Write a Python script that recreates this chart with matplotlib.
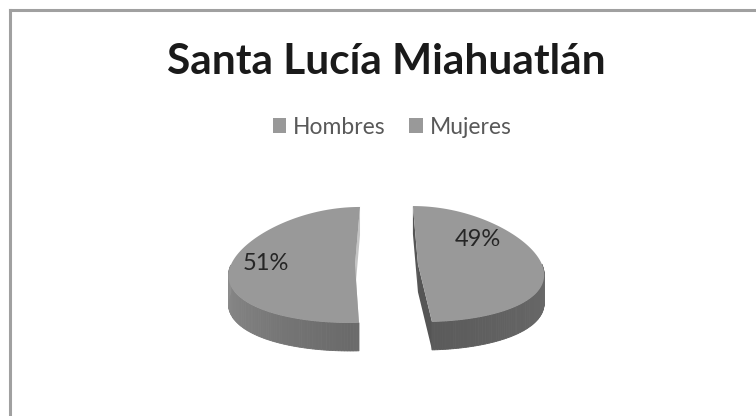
import numpy as np
import matplotlib
matplotlib.use("Agg")
import matplotlib.pyplot as plt
from matplotlib.patches import Polygon, Rectangle
from matplotlib.lines import Line2D

# ---- data ----
title = "Santa Lucía Miahuatlán"
categories = ["Hombres", "Mujeres"]
values = [49, 51]
labels = ["49%", "51%"]

# ---- style / layout ----
W, H = 756, 416
top_color = "#999999"
wall_colors = [("#6c6c6c", "#5a5a5a"), ("#8e8e8e", "#6a6a6a")]  # (outer-end, inner-end)
face_colors = ["#555555", "#c4c4c4"]
cx0, cy0 = 386.5, 264.5
rx, ry, depth = 124.0, 58.0, 28.0
explode = 31.5
persp = 0.16          # perspective widening toward the viewer
label_offsets = [(0.54, -0.42), (-0.72, -0.03)]  # in units of (rx, ry) from slice centre

fig = plt.figure(figsize=(W / 100, H / 100), dpi=100)
ax = fig.add_axes([0, 0, 1, 1])
ax.set_xlim(0, W)
ax.set_ylim(H, 0)
ax.axis("off")


def proj(x, y):
    """plane coords -> screen coords with a simple perspective."""
    p = 1 + persp * (np.asarray(y) - cy0) / ry
    return cx0 + (np.asarray(x) - cx0) * p, y


def rim(cx, cy, th):
    t = np.radians(th)
    return proj(cx + rx * np.sin(t), cy - ry * np.cos(t))


total = float(sum(values))
start = 0.0
slices = []
for v in values:
    span = 360.0 * v / total
    slices.append((start, start + span))
    start += span

for i, (a, b) in enumerate(slices):
    mid = np.radians((a + b) / 2)
    cx = cx0 + explode * np.sin(mid)
    cy = cy0 - explode * np.cos(mid) * ry / rx
    ccx, ccy = proj(cx, cy)
    # radial faces
    for th in (a, b):
        px, py = rim(cx, cy, th)
        ax.add_patch(Polygon([(ccx, ccy), (px, py), (px, py + depth), (ccx, ccy + depth)],
                             closed=True, facecolor=face_colors[i], edgecolor="none", zorder=1))
    # outer wall (visible front half, 90..270)
    lo, hi = max(a, 90.0), min(b, 270.0)
    if hi > lo:
        n = 80
        ths = np.linspace(lo, hi, n + 1)
        c_out = np.array(matplotlib.colors.to_rgb(wall_colors[i][0]))
        c_in = np.array(matplotlib.colors.to_rgb(wall_colors[i][1]))
        for k in range(n):
            t0, t1 = ths[k], ths[k + 1]
            x0, y0 = rim(cx, cy, t0)
            x1, y1 = rim(cx, cy, t1)
            tm = (t0 + t1) / 2
            f = 1 - abs(tm - 180) / 90.0
            col = c_out * (1 - f) + c_in * f
            ax.add_patch(Polygon([(x0, y0), (x1, y1), (x1, y1 + depth), (x0, y0 + depth)],
                                 closed=True, facecolor=col, edgecolor=col, lw=0.6, zorder=2))
    # top face
    ths = np.linspace(a, b, 200)
    xs, ys = rim(cx, cy, ths)
    poly = [(ccx, ccy)] + list(zip(xs, ys))
    ax.add_patch(Polygon(poly, closed=True, facecolor=top_color, edgecolor="none", zorder=3))
    # label
    lx, ly = label_offsets[i]
    tx, ty = proj(cx + lx * rx, cy + ly * ry)
    ax.text(tx, ty, labels[i], ha="center", va="center",
            fontsize=17, color="#262626", family="Lato", zorder=4)

# title
ax.text(386, 62, title, ha="center", va="center", fontsize=30.5, fontweight="bold",
        family="Lato", color="#1a1a1a")

# legend
handles = [Rectangle((0, 0), 1, 1, facecolor=top_color, edgecolor="none") for _ in categories]
leg = fig.legend(handles, categories, loc="center", bbox_to_anchor=(392 / W, 1 - 127 / H),
                 ncol=2, frameon=False, handlelength=0.6, handleheight=0.6,
                 handletextpad=0.3, columnspacing=1.0, prop={"family": "Lato", "size": 16.5})
for t in leg.get_texts():
    t.set_color("#595959")

# frame
ax.add_line(Line2D([9.5, 9.5], [9.5, H], color="#a0a0a0", lw=2.2))
ax.add_line(Line2D([9.5, W], [9.5, 9.5], color="#a0a0a0", lw=2.2))

fig.savefig("out.png", dpi=100)
